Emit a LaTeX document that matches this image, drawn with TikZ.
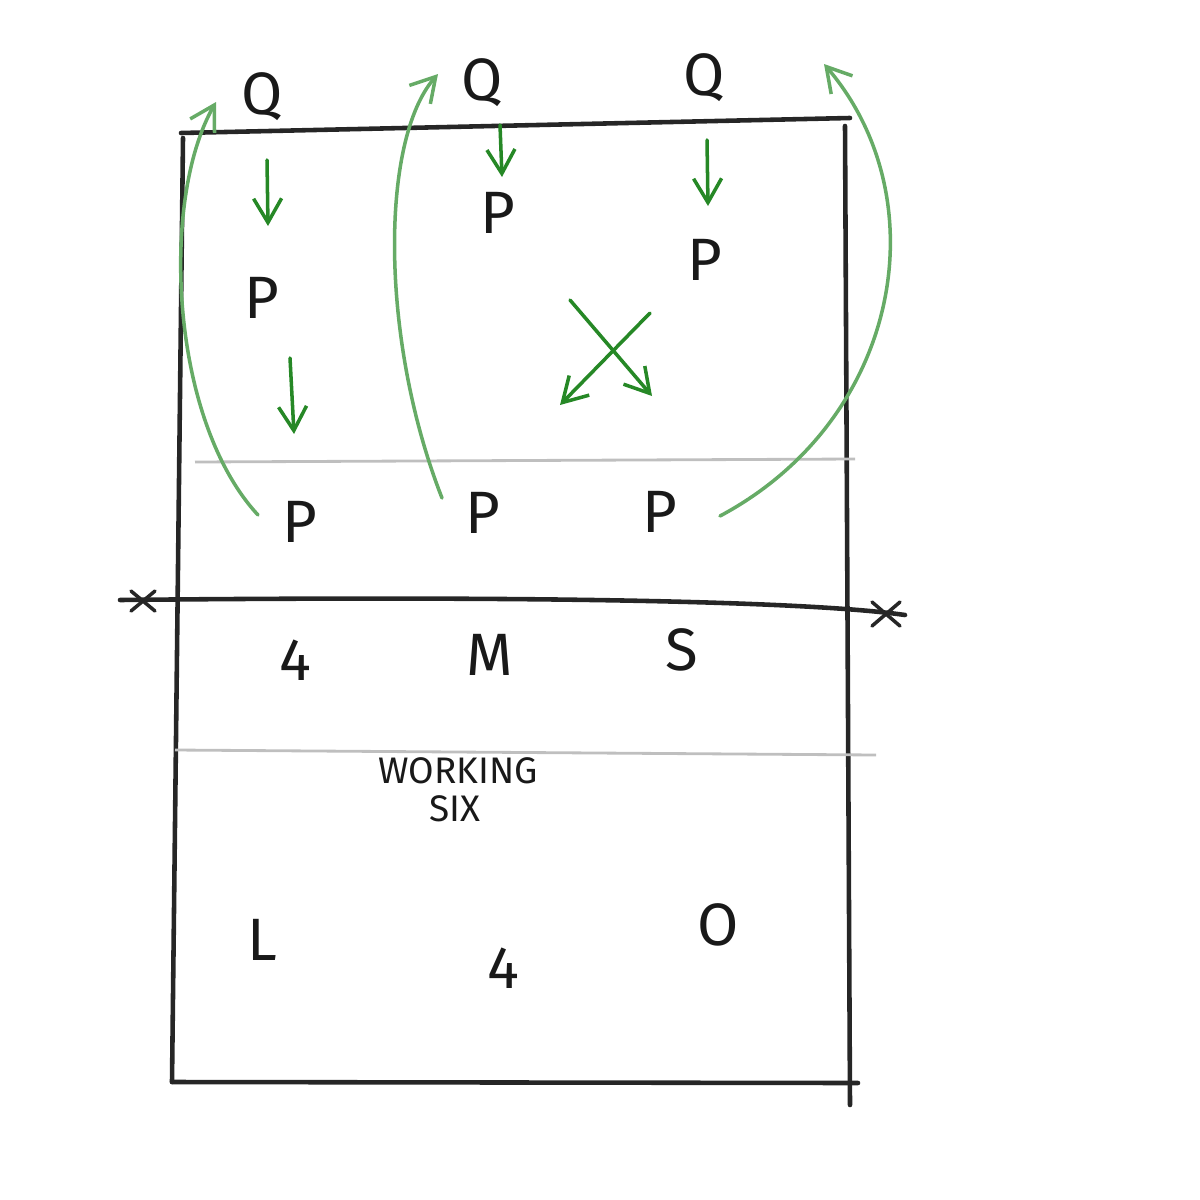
\documentclass[tikz,border=0pt]{standalone}
\usepackage{fontspec}
\setmainfont{Fira Sans}
\usetikzlibrary{positioning,arrows.meta,calc}
\tikzset{
  vbline/.style={draw=black!85, line width=1.3pt, line cap=round},
  vbzone/.style={draw=black!25, line width=0.8pt},
  vbpos/.style={font=\fontsize{17}{19}\selectfont, inner sep=0pt, text=black!90},
  vbnote/.style={font=\fontsize{10.5}{12}\selectfont, inner sep=0pt, text=black!90},
  vbmove/.style={draw=green!45!black!85, line width=1pt, line cap=round,
                 -{Straight Barb[length=2.4mm, width=2.8mm, line width=1pt]}},
  vbrun/.style={vbmove, draw=green!45!black!60},
}

\begin{document}
\begin{tikzpicture}[x=0.01cm, y=-0.01cm]
  \useasboundingbox (0,0) rectangle (1200,1200);
  % court
  \coordinate (TL) at (181,133);
  \coordinate (TR) at (850,118);
  \coordinate (BL) at (172,1082);
  \coordinate (BR) at (858,1083);
  \draw[vbline] (TL) -- (TR);
  \draw[vbline] (183,138) -- (BL);
  \draw[vbline] (845,126) -- (850,1105);
  \draw[vbline] (BL) -- (BR);
  \draw[vbzone] (195,462) -- (855,459);
  \draw[vbzone] (175,750) -- (876,755);
  % net
  \coordinate (NL) at (143,601);
  \coordinate (NR) at (886,614);
  \draw[vbline] (120,600) .. controls (500,596) and (800,600) .. (905,615);
  \draw[vbline, line width=1pt] ($(NL)+(-12,-10)$) -- ($(NL)+(12,10)$)
                                 ($(NL)+(-12,10)$) -- ($(NL)+(12,-10)$);
  \draw[vbline, line width=1pt] ($(NR)+(-14,-12)$) -- ($(NR)+(14,12)$)
                                 ($(NR)+(-14,12)$) -- ($(NR)+(14,-12)$);
  % players
  \node[vbpos] (Q1) at (262,97) {Q};
  \node[vbpos] (Q2) at (482,83) {Q};
  \node[vbpos] (Q3) at (704,78) {Q};
  \node[vbpos] (P1) at (498,213) {P};
  \node[vbpos] (P2) at (262,298) {P};
  \node[vbpos] (P3) at (705,260) {P};
  \node[vbpos] (P4) at (300,522) {P};
  \node[vbpos] (P5) at (483,513) {P};
  \node[vbpos] (P6) at (660,512) {P};
  \node[vbpos] (F1) at (295,660) {4};
  \node[vbpos] (M1) at (490,655) {M};
  \node[vbpos] (S1) at (682,650) {S};
  \node[vbnote] (W1) at (458,771) {WORKING};
  \node[vbnote] (W2) at (455,809) {SIX};
  \node[vbpos] (L1) at (262,940) {L};
  \node[vbpos] (F2) at (503,968) {4};
  \node[vbpos] (O1) at (718,925) {O};
  % moves
  \coordinate (a1) at (267,160);  \coordinate (a2) at (268,226);
  \coordinate (b1) at (290,358);  \coordinate (b2) at (294,434);
  \coordinate (c1) at (500,125);  \coordinate (c2) at (502,177);
  \coordinate (d1) at (707,140);  \coordinate (d2) at (708,206);
  \coordinate (e1) at (570,300);  \coordinate (e2) at (652,396);
  \coordinate (f1) at (650,313);  \coordinate (f2) at (560,405);
  \draw[vbmove] (a1) -- (a2);
  \draw[vbmove] (b1) -- (b2);
  \draw[vbmove] (c1) -- (c2);
  \draw[vbmove] (d1) -- (d2);
  \draw[vbmove] (e1) -- (e2);
  \draw[vbmove] (f1) -- (f2);
  \coordinate (g1) at (258,515);  \coordinate (g2) at (216,102);
  \coordinate (h1) at (442,498);  \coordinate (h2) at (438,74);
  \coordinate (k1) at (720,516);  \coordinate (k2) at (824,64);
  \draw[vbrun] (g1) .. controls (170,420) and (160,200) .. (g2);
  \draw[vbrun] (h1) .. controls (380,340) and (380,140) .. (h2);
  \draw[vbrun] (k1) .. controls (900,420) and (940,200) .. (k2);
\end{tikzpicture}
\end{document}
